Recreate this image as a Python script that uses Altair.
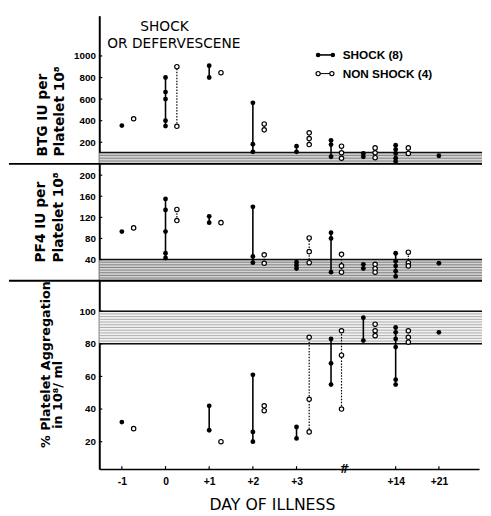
import altair as alt
import pandas as pd
import numpy as np

# ---------------- data ----------------
# compressed day axis: slot positions of the day ticks
tick_pos = [0, 1, 2, 3, 4, 6.27, 7.26]
tick_lab = ["-1", "0", "+1", "+2", "+3", "+14", "+21"]
break_pos = 5.08
shock_x = [0, 1, 2, 3, 4, 4.79, 5.53, 6.27, 7.26]
non_x = [0.27, 1.26, 2.27, 3.26, 4.29, 5.03, 5.80, 6.56]

btg_shock = [[355], [800, 665, 600, 400, 350], [910, 800], [566, 182, 112], [164, 112],
             [218, 179, 66], [97, 66], [173, 133, 97, 52, 21], [75]]
btg_non = [[418], [900, 348], [845], [370, 315], [288, 234, 179],
           [164, 103, 52], [148, 103, 57], [148, 97]]

pf4_shock = [[93], [155, 134, 93, 52, 43], [122, 110], [140, 46, 34], [35, 29, 23],
             [91, 80, 16], [31, 23], [52, 37, 28, 18, 8], [33]]
pf4_non = [[100], [135, 114], [110], [49, 33], [81, 55, 34],
           [50, 28, 16], [31, 23, 16], [54, 34, 28]]

agg_shock = [[32], [], [42, 27], [61, 26, 20], [29, 22],
             [83, 68, 55], [96, 82], [90, 87, 83, 78, 58, 55], [87]]
agg_non = [[28], [], [20], [42, 39], [84, 46, 26],
           [88, 73, 40], [92, 88, 85], [88, 84, 81]]

btg_band = [0, 105]
pf4_band = [0, 40]
agg_band = [80, 100]

btg_ticks = [200, 400, 600, 800, 1000]
pf4_ticks = [40, 80, 120, 160, 200]
agg_ticks = [20, 40, 60, 80, 100]

annot_lines = ["SHOCK", "OR DEFERVESCENE"]
legend_labels = ["SHOCK (8)", "NON SHOCK (4)"]
x_title = "DAY OF ILLNESS"

# ---------------- layout ----------------
W = 387
H1, H2, H3 = 151, 119, 192
xscale = alt.Scale(domain=[-0.517, 8.18], nice=False, zero=False)
one = pd.DataFrame({"k": [0]})


def long(xs, groups):
    rows = []
    for x, vals in zip(xs, groups):
        for v in vals:
            rows.append({"x": x, "v": v})
    return pd.DataFrame(rows)


label_map = "{" + ",".join(f"'{p}':'{l}'" for p, l in zip(tick_pos, tick_lab)) + "}[datum.value]"


def panel(shock, non, band, ticks, domain, H, title, tx, ty, tlh, tsize,
          fill, hatch_col, hatch_n, edge_low, xaxis=None, top_sep=False, extra=()):
    ys = alt.Scale(domain=domain, nice=False, zero=False)
    yax = alt.Axis(values=ticks, format="d", domainColor="black", domainWidth=2, tickSize=0,
                   labelPadding=4, labelFont="Liberation Sans", labelFontWeight="bold",
                   labelFontSize=10, labelColor="black", grid=False,
                   titleFont="DejaVu Sans", titleFontWeight="bold", titleFontSize=tsize,
                   titleColor="black", titleAngle=270, titleAlign="left",
                   titleBaseline="alphabetic", titleX=tx, titleY=ty, titleLineHeight=tlh)

    def Y(f):
        return alt.Y(f, scale=ys, axis=yax, title=title)

    def X(f):
        return alt.X(f, scale=xscale, axis=xaxis)

    sdf = long(shock_x, shock)
    ndf = long(non_x, non)
    bdf = pd.DataFrame({"lo": [band[0]], "hi": [band[1]]})
    hdf = pd.DataFrame({"h": np.linspace(band[0], band[1], hatch_n)})
    tdf = pd.DataFrame({"t": ticks})
    edges = [band[1]] + ([band[0]] if edge_low else [])
    edf = pd.DataFrame({"e": edges})

    layers = [
        alt.Chart(bdf).mark_rect(fill=fill).encode(
            y=Y("lo:Q"), y2="hi:Q", x=alt.value(0), x2=alt.value(W + 3)),
        alt.Chart(hdf).mark_rule(color=hatch_col, strokeWidth=0.8).encode(
            y=Y("h:Q"), x=alt.value(0), x2=alt.value(W + 3)),
        alt.Chart(edf).mark_rule(color="#111", strokeWidth=1.6).encode(
            y=Y("e:Q"), x=alt.value(0), x2=alt.value(W + 3)),
        alt.Chart(tdf).mark_rule(color="black", strokeWidth=1.2).encode(
            y=Y("t:Q"), x=alt.value(0), x2=alt.value(3)),
        alt.Chart(sdf).mark_rule(color="black", strokeWidth=1.6).encode(
            x=X("x:Q"), y=Y("min(v):Q"), y2="max(v)"),
        alt.Chart(ndf).mark_rule(color="black", strokeWidth=1.2, strokeDash=[1.5, 1.5]).encode(
            x=X("x:Q"), y=Y("min(v):Q"), y2="max(v)"),
        alt.Chart(sdf).mark_point(filled=True, color="black", size=24, opacity=1).encode(
            x=X("x:Q"), y=Y("v:Q")),
        alt.Chart(ndf).mark_point(filled=True, color="white", stroke="black",
                                  strokeWidth=1.2, size=20, opacity=1).encode(
            x=X("x:Q"), y=Y("v:Q")),
    ]
    if top_sep:
        layers.append(alt.Chart(one).mark_rule(color="black", strokeWidth=2).encode(
            x=alt.value(-92), x2=alt.value(W + 3), y=alt.value(0)))
    layers.extend(extra)
    return alt.layer(*layers).properties(width=W, height=H)


# panel 1 extras: annotation and legend
ann = [
    alt.Chart(one).mark_text(font="DejaVu Sans", fontSize=14, align="center",
                             baseline="alphabetic", color="black").encode(
        x=alt.value(66.5), y=alt.value(16), text=alt.value(annot_lines[0])),
    alt.Chart(one).mark_text(font="DejaVu Sans", fontSize=14, align="center",
                             baseline="alphabetic", color="black").encode(
        x=alt.value(76), y=alt.value(33), text=alt.value(annot_lines[1])),
    alt.Chart(one).mark_rule(color="black", strokeWidth=1.6).encode(
        x=alt.value(223), x2=alt.value(238), y=alt.value(40)),
    alt.Chart(one).mark_point(filled=True, color="black", size=22, opacity=1).encode(
        x=alt.value(223), y=alt.value(40)),
    alt.Chart(one).mark_point(filled=True, color="black", size=22, opacity=1).encode(
        x=alt.value(238), y=alt.value(40)),
    alt.Chart(one).mark_rule(color="black", strokeWidth=1).encode(
        x=alt.value(223), x2=alt.value(237), y=alt.value(59)),
    alt.Chart(one).mark_point(filled=True, color="white", stroke="black", strokeWidth=1.2,
                              size=18, opacity=1).encode(x=alt.value(223), y=alt.value(59)),
    alt.Chart(one).mark_point(filled=True, color="white", stroke="black", strokeWidth=1.2,
                              size=18, opacity=1).encode(x=alt.value(237), y=alt.value(59)),
    alt.Chart(one).mark_text(font="Liberation Sans", fontWeight="bold", fontSize=12,
                             align="left", baseline="alphabetic", color="black").encode(
        x=alt.value(248), y=alt.value(44), text=alt.value(legend_labels[0])),
    alt.Chart(one).mark_text(font="Liberation Sans", fontWeight="bold", fontSize=12,
                             align="left", baseline="alphabetic", color="black").encode(
        x=alt.value(248), y=alt.value(63), text=alt.value(legend_labels[1])),
]

p1 = panel(btg_shock, btg_non, btg_band, btg_ticks, [0, 1373], H1,
           ["BTG IU per", "Platelet 10⁸"], -54, 143, 18, 14,
           "#d4d4d4", "#6a6a6a", 5, False, extra=ann)

p2 = panel(pf4_shock, pf4_non, pf4_band, pf4_ticks, [0, 221.4], H2,
           ["PF4 IU per", "Platelet 10⁸"], -56, 100, 19, 14,
           "#d4d4d4", "#6a6a6a", 9, False, top_sep=True)

xax = alt.Axis(values=tick_pos, labelExpr=label_map, domainColor="black", domainWidth=1.5,
               tickSize=0, labelPadding=8, labelFont="Liberation Sans",
               labelFontWeight="bold", labelFontSize=10.5, labelColor="black",
               labelFlush=False, grid=False, title=x_title, titleFont="DejaVu Sans",
               titleFontSize=16, titleFontWeight="normal", titleColor="black",
               titleX=176, titleY=41, titleAlign="center", titleBaseline="alphabetic")

tick_df = pd.DataFrame({"x": tick_pos})
brk_df = pd.DataFrame({"x": [break_pos]})
ex3 = [
    alt.Chart(tick_df).mark_rule(color="black", strokeWidth=1.2).encode(
        x=alt.X("x:Q", scale=xscale, axis=xax), y=alt.value(H3 - 3), y2=alt.value(H3)),
    alt.Chart(brk_df).mark_text(font="DejaVu Sans", fontWeight="bold", fontStyle="italic",
                                fontSize=12, baseline="middle", color="black").encode(
        x=alt.X("x:Q", scale=xscale, axis=xax), y=alt.value(H3), text=alt.value("#")),
    alt.Chart(one).mark_text(font="DejaVu Sans", fontWeight="bold", fontSize=13, angle=270,
                             align="left", baseline="alphabetic", color="black").encode(
        x=alt.value(-38), y=alt.value(151), text=alt.value("in 10⁸/ ml")),
]

p3 = panel(agg_shock, agg_non, agg_band, agg_ticks, [3.2, 118.7], H3,
           "% Platelet Aggregation", -51, 170, 18, 13,
           "#f2f2f2", "#9a9a9a", 13, True, xaxis=xax, top_sep=True, extra=ex3)

chart = alt.vconcat(p1, p2, p3, spacing=0).properties(
    bounds="flush", padding={"left": 0, "top": 3, "right": 0, "bottom": 0}
).configure_view(stroke=None).configure_concat(spacing=0)

chart.save("out.html", embed_options={"renderer": "svg", "actions": False})
